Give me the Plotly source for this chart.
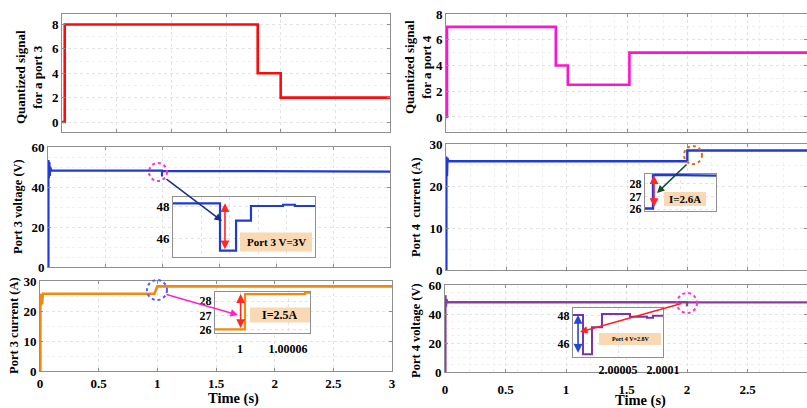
import plotly.graph_objects as go

W, H = 807, 408
FONT = "Liberation Serif"

# ---------------- data ----------------
time_ticks = [0, 0.5, 1, 1.5, 2, 2.5, 3]
time_labels = ["0", "0.5", "1", "1.5", "2", "2.5", "3"]

# quantized signal, port 3
q3_t = [0, 0.025, 0.025, 1.79, 1.79, 2.0, 2.0, 3.0]
q3_v = [0, 0, 8, 8, 4, 4, 2, 2]

# quantized signal, port 4
q4_t = [0, 0.008, 0.008, 0.91, 0.91, 1.01, 1.01, 1.52, 1.52, 3.0]
q4_v = [0, 0, 7, 7, 4, 4, 2.5, 2.5, 5, 5]

# port 3 voltage
v3_t = [0, 0.004, 0.004, 0.008, 0.012, 0.016, 0.02, 0.03, 1.0, 1.0, 1.00005, 3.0]
v3_v = [0, 0, 53.5, 44.5, 52.5, 45.5, 50, 48.2, 48.2, 45.2, 48.05, 47.7]

# port 4 current
i4_t = [0, 0.003, 0.003, 0.008, 0.012, 0.02, 2.0, 2.0, 3.0]
i4_v = [0, 0, 27.2, 22.5, 26.8, 26.05, 26.05, 28.65, 28.65]

# port 3 current
i3_t = [0, 0.003, 0.003, 0.008, 0.013, 0.018, 0.024, 0.03, 0.975, 1.0, 3.0]
i3_v = [0, 0, 26, 22, 26, 22.5, 26, 26, 26, 28.5, 28.5]

# port 4 voltage
v4_t = [0, 0.003, 0.003, 0.008, 0.012, 0.02, 2.0, 2.0, 2.00005, 3.0]
v4_v = [0, 0, 53, 45, 50, 48.07, 48.07, 45.27, 48.1, 48.0]

# zoomed views
v3z_t = [1.0, 1.0000331, 1.0000331, 1.0000444, 1.0000444, 1.0000549, 1.0000549,
         1.0000775, 1.0000775, 1.0000859, 1.0000859, 1.0001]
v3z_v = [48.2, 48.2, 45.2, 45.2, 47.1, 47.1, 48.03, 48.03, 48.11, 48.11, 48.03, 48.03]

i4z_t = [2.0, 2.0000113, 2.0000113, 2.000022, 2.0001]
i4z_v = [26.05, 26.05, 28.65, 28.68, 28.62]

i3z_t = [0.99996875, 1.00000625, 1.00000625, 1.0000813, 1.0000813, 1.0000875]
i3z_v = [26.0, 26.0, 28.5, 28.5, 28.6, 28.6]

v4z_t = [2.0, 2.0000111, 2.0000111, 2.0000211, 2.0000211, 2.0000322, 2.0000322,
         2.0000633, 2.0000633, 2.0000822, 2.0000822, 2.0000889, 2.0000889, 2.0001]
v4z_v = [48.07, 48.07, 45.27, 45.27, 47.2, 47.2, 48.14, 48.14, 47.95, 47.95,
         47.88, 47.88, 48.02, 48.02]


# ---------------- helpers ----------------
def px(x):
    return x / W


def py(y):
    return 1 - y / H


def xdom(a, b):
    return [max(0, px(a)), min(1, px(b))]


def ydom(top, bottom):
    return [py(bottom), py(top)]


FRAME = "#8f8f8f"
GRID = "#e3e3e3"

fig = go.Figure()


def main_axes(n, xd, yd, xr, yr, yticks, xlabels=False, standoff=None):
    xa = dict(domain=xd, range=xr, anchor=f"y{n}" if n > 1 else "y", automargin=False,
              tickvals=time_ticks, ticktext=time_labels,
              showticklabels=xlabels, ticks="inside", ticklen=3, tickcolor=FRAME,
              showline=True, linecolor=FRAME, linewidth=1, mirror="ticks",
              showgrid=True, gridcolor=GRID, griddash="dot", zeroline=False,
              tickfont=dict(family=FONT, size=13, color="black", weight="bold"),
              minor=dict(showgrid=True, gridcolor="#f0f0f0", griddash="dot", nticks=3))
    if standoff is not None:
        xa["ticklabelstandoff"] = standoff
    ya = dict(domain=yd, range=yr, anchor=f"x{n}" if n > 1 else "x", automargin=False,
              tickvals=yticks, ticks="inside", ticklen=3, tickcolor=FRAME,
              showline=True, linecolor=FRAME, linewidth=1, mirror="ticks",
              showgrid=True, gridcolor=GRID, griddash="dot", zeroline=False,
              tickfont=dict(family=FONT, size=13, color="black", weight="bold"),
              minor=dict(showgrid=True, gridcolor="#f0f0f0", griddash="dot", nticks=3))
    key = "" if n == 1 else str(n)
    fig.update_layout(**{f"xaxis{key}": xa, f"yaxis{key}": ya})


def inset_axes(n, xd, yd, xr, yr, yticks, xticks=None, xtext=None, size=12, gap=5):
    xa = dict(domain=xd, range=xr, anchor=f"y{n}", automargin=False,
              showline=True, linecolor=FRAME, linewidth=1, mirror=True,
              showgrid=True, gridcolor=GRID, griddash="dot", zeroline=False,
              ticks="", fixedrange=True)
    if xticks:
        xa.update(tickvals=xticks, ticktext=xtext, showticklabels=True,
                  ticks="outside", ticklen=gap, tickcolor="rgba(0,0,0,0)",
                  tickfont=dict(family=FONT, size=12, color="black", weight="bold"))
    else:
        xa.update(showticklabels=False, nticks=5)
    ya = dict(domain=yd, range=yr, anchor=f"x{n}", tickvals=yticks, automargin=False,
              showline=True, linecolor=FRAME, linewidth=1, mirror=True,
              showgrid=True, gridcolor=GRID, griddash="dot", zeroline=False,
              ticks="", tickfont=dict(family=FONT, size=size, color="black", weight="bold"))
    fig.update_layout(**{f"xaxis{n}": xa, f"yaxis{n}": ya})
    # white backing for the zoom window
    fig.add_shape(type="rect", xref=f"x{n} domain", yref=f"y{n} domain",
                  x0=0, x1=1, y0=0, y1=1, fillcolor="white",
                  line=dict(width=0), layer="below")


def line(n, t, v, color, width):
    key = "" if n == 1 else str(n)
    fig.add_trace(go.Scatter(x=t, y=v, mode="lines", line=dict(color=color, width=width),
                             xaxis=f"x{key}", yaxis=f"y{key}", showlegend=False,
                             hoverinfo="skip"))


RIGHT_END = 3 * (807 - 446) / (808 - 446)

# main panels
main_axes(1, xdom(62, 390), ydom(14, 132), [0, 3], [-0.82, 8.86], [0, 2, 4, 6, 8])
main_axes(2, xdom(446, 807), ydom(14, 132), [0, RIGHT_END], [-1.17, 8.0], [0, 2, 4, 6, 8])
main_axes(3, xdom(48, 390), ydom(147, 267), [0, 3], [0, 60], [0, 20, 40, 60])
main_axes(4, xdom(446, 807), ydom(144, 270), [0, RIGHT_END], [0, 30.2], [0, 10, 20, 30])
main_axes(5, xdom(40, 392), ydom(281, 371), [0, 3], [0, 30.3], [0, 10, 20, 30], xlabels=True)
main_axes(6, xdom(445, 807), ydom(285, 372), [0, RIGHT_END], [0, 60], [0, 20, 40, 60],
          xlabels=True, standoff=5)

line(1, q3_t, q3_v, "#ff0a0a", 2.6)
line(2, q4_t, q4_v, "#ff14cc", 2.6)
line(3, v3_t, v3_v, "#1f3ad6", 2.2)
line(4, i4_t, i4_v, "#1f3ad6", 2.4)
line(5, i3_t, i3_v, "#f08a0c", 2.6)
line(6, v4_t, v4_v, "#8e3aa6", 2.4)

# zoom windows
inset_axes(7, xdom(173, 315), ydom(197, 257), [1.0, 1.0001], [44.8, 48.6], [46, 48], size=13)
inset_axes(8, xdom(645, 716), ydom(174, 211), [2.0, 2.0001], [25.85, 28.75], [26, 27, 28])
inset_axes(9, xdom(215, 310), ydom(292, 333), [0.99996875, 1.0000875], [25.75, 28.65],
           [26, 27, 28], xticks=[1.0, 1.00006], xtext=["1", "1.00006"], gap=5)
inset_axes(10, xdom(573, 663), ydom(308, 357), [2.0, 2.0001], [45.07, 48.57], [46, 48],
           xticks=[2.00005, 2.0001], xtext=["2.00005", "2.0001"], gap=2)

line(7, v3z_t, v3z_v, "#1f3ad6", 2.2)
line(8, i4z_t, i4z_v, "#1f3ad6", 2.4)
line(9, i3z_t, i3z_v, "#f08a0c", 2.2)
line(10, v4z_t, v4z_v, "#7a34b0", 2.0)


def double_arrow(n, x, y0, y1, color):
    fig.add_annotation(x=x, y=y1, ax=x, ay=y0, xref=f"x{n}", yref=f"y{n}",
                       axref=f"x{n}", ayref=f"y{n}", showarrow=True,
                       arrowhead=2, arrowside="end+start", arrowsize=1.1,
                       arrowwidth=1.6, arrowcolor=color, text="")


double_arrow(7, 1.0000366, 45.2, 48.2, "#ff2626")
double_arrow(8, 2.0000127, 26.05, 28.65, "#ff2626")
double_arrow(9, 1.0000008, 26.0, 28.5, "#ff2626")
double_arrow(10, 2.0000056, 45.27, 48.07, "#1f4ad8")


def pointer(x0, y0, x1, y1, color):
    # arrow in pixel space from (x0, y0) to head at (x1, y1)
    fig.add_annotation(x=px(x1), y=py(y1), xref="paper", yref="paper",
                       ax=x0 - x1, ay=y0 - y1, showarrow=True, arrowhead=2,
                       arrowsize=1, arrowwidth=1.5, arrowcolor=color, text="")


pointer(165, 178, 222, 221, "#1a2f86")
pointer(688, 163, 657, 193, "#154a2a")
pointer(165, 294, 238, 315, "#ff22cc")
pointer(683, 303, 580, 332, "#ff2020")


def ring(cx, cy, r, color):
    fig.add_shape(type="circle", xref="paper", yref="paper",
                  x0=px(cx - r), x1=px(cx + r), y0=py(cy + r), y1=py(cy - r),
                  line=dict(color=color, width=2, dash="dot"))


ring(158, 172, 9, "#ff33cc")
ring(693, 155, 9, "#e8691a")
ring(157, 290, 10, "#4f5cff")
ring(687, 303, 10, "#ff33cc")


def text_at(cx, cy, text, size, angle=0):
    fig.add_annotation(x=px(cx), y=py(cy), xref="paper", yref="paper", text=text,
                       textangle=angle, showarrow=False, xanchor="center", yanchor="middle",
                       font=dict(family=FONT, size=size, color="black", weight="bold"))


def tag(cx, cy, text, size, w, h):
    fig.add_shape(type="rect", xref="paper", yref="paper",
                  x0=px(cx - w / 2), x1=px(cx + w / 2), y0=py(cy + h / 2), y1=py(cy - h / 2),
                  fillcolor="#f9d8b4", line=dict(width=0))
    text_at(cx, cy, text, size)


tag(276, 242, "Port 3 V=3V", 11, 72, 19)
tag(685, 199, "I=2.6A", 11, 42, 14)
tag(280, 315, "I=2.5A", 12, 60, 15)
tag(630, 339, "Port 4 V=2.8V", 6, 62, 12)

text_at(29, 77, "Quantized signal<br>for a port 3", 13, -90)
text_at(418, 67, "Quantized signal<br>for a port 4", 13, -90)
text_at(18, 207, "Port 3 voltage (V)", 12.5, -90)
text_at(416, 207, "Port 4  current (A)", 12.5, -90)
text_at(14, 326, "Port 3 current (A)", 12.5, -90)
text_at(416, 330, "Port 4 voltage (V)", 12.5, -90)

text_at(233, 398, "Time (s)", 14.5)
text_at(640, 400, "Time (s)", 14.5)

fig.update_layout(width=W, height=H, autosize=False, margin=dict(l=0, r=0, t=0, b=0),
                  paper_bgcolor="white", plot_bgcolor="white", showlegend=False)

fig.write_html("out.html")
